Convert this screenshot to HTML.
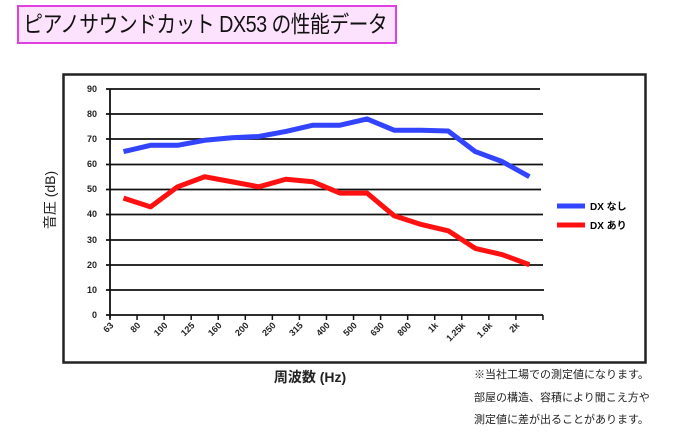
<!DOCTYPE html>
<html><head><meta charset="utf-8"><style>
body{margin:0;width:700px;height:437px;background:#fff;overflow:hidden;position:relative;font-family:"Liberation Sans","Noto Sans CJK JP",sans-serif}
.title{position:absolute;left:17px;top:5px;width:376px;height:35px;border:2px solid #e040e0;background:#fde2fd;line-height:35px;color:#111;white-space:nowrap;overflow:hidden}
.title span{display:inline-block;font-size:23px;letter-spacing:-0.6px;transform:scaleX(0.86);transform-origin:0 50%;padding-left:5px}
.note{position:absolute;left:474px;top:364px;font-size:11px;line-height:22.5px;color:#222;white-space:nowrap}
</style></head><body>
<div class="title"><span>ピアノサウンドカット DX53 の性能データ</span></div>
<svg width="700" height="437" style="position:absolute;left:0;top:0">
<rect x="63.5" y="74.5" width="582" height="288" fill="none" stroke="#222" stroke-width="2.5"/>
<g stroke="#111" stroke-width="1.8">
<line x1="106" y1="89" x2="540" y2="89"/><line x1="106" y1="114" x2="543" y2="114"/><line x1="106" y1="139" x2="543" y2="139"/><line x1="106" y1="164.5" x2="543" y2="164.5"/><line x1="106" y1="189.5" x2="541" y2="189.5"/><line x1="106" y1="214.5" x2="543" y2="214.5"/><line x1="106" y1="240" x2="543" y2="240"/><line x1="106" y1="265" x2="543" y2="265"/><line x1="106" y1="290" x2="544" y2="290"/><line x1="106" y1="315" x2="543" y2="315"/>
<line x1="110" y1="89" x2="110" y2="318"/>
</g>
<g stroke="#111" stroke-width="1.5" id="ticks"></g>
<g font-size="9" font-weight="bold" fill="#222" text-anchor="end">
<text x="97" y="92">90</text><text x="97" y="117">80</text><text x="97" y="142">70</text><text x="97" y="167">60</text><text x="97" y="192">50</text><text x="97" y="217">40</text><text x="97" y="243">30</text><text x="97" y="268">20</text><text x="97" y="293">10</text><text x="97" y="318">0</text>
</g>
<g id="xl" font-size="9" font-weight="bold" fill="#222" text-anchor="end"></g>
<polyline id="blue" fill="none" stroke="#3344ff" stroke-width="5" stroke-linejoin="round"/>
<polyline id="red" fill="none" stroke="#ff1111" stroke-width="5" stroke-linejoin="round"/>
<line x1="557" y1="206" x2="585" y2="206" stroke="#3344ff" stroke-width="5"/>
<line x1="557" y1="225" x2="585" y2="225" stroke="#ff1111" stroke-width="5"/>
<text x="590" y="210" font-size="10" font-weight="bold">DX なし</text>
<text x="590" y="229" font-size="10" font-weight="bold">DX あり</text>
<text transform="translate(55,200) rotate(-90)" font-size="14" text-anchor="middle" fill="#222">音圧 (dB)</text>
<text x="310" y="382" font-size="14" font-weight="bold" text-anchor="middle" fill="#222">周波数 (Hz)</text>
</svg>
<div class="note">※当社工場での測定値になります。<br>部屋の構造、容積により聞こえ方や<br>測定値に差が出ることがあります。</div>
<script>
var ns="http://www.w3.org/2000/svg";
var labs=["63","80","100","125","160","200","250","315","400","500","630","800","1k","1.25k","1.6k","2k"];
var t=document.getElementById("ticks"),xl=document.getElementById("xl");
for(var i=0;i<=16;i++){var x=110+i*27.06;var l=document.createElementNS(ns,"line");l.setAttribute("x1",x);l.setAttribute("x2",x);l.setAttribute("y1",315);l.setAttribute("y2",320);t.appendChild(l);
if(i<16){var tx=document.createElementNS(ns,"text");tx.setAttribute("transform","translate("+(x+4)+",326) rotate(-45)");tx.textContent=labs[i];xl.appendChild(tx);}}
var b=[65,67.5,67.5,69.5,70.5,71,73,75.5,75.5,78,73.5,73.5,73.2,65,61,55];
var r=[46.5,43,51,55,53,51,54,53,48.5,48.5,39.5,36,33.5,26.5,24,20];
function pts(a){return a.map(function(v,i){return (123.5+i*27.06)+","+(315-v*2.514)}).join(" ")}
document.getElementById("blue").setAttribute("points",pts(b));
document.getElementById("red").setAttribute("points",pts(r));
</script>
</body></html>
